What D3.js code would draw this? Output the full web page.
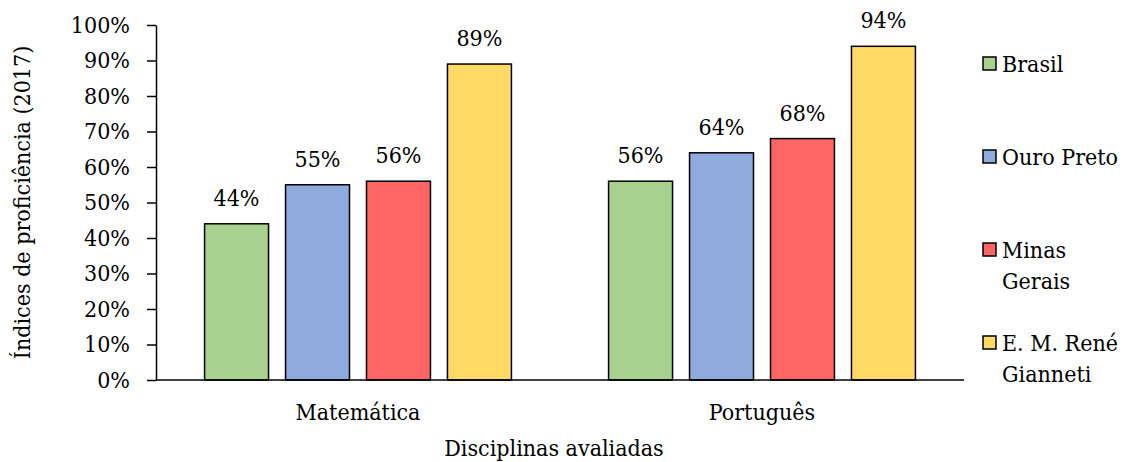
<!DOCTYPE html>
<html>
<head>
<meta charset="utf-8">
<script src="https://cdn.jsdelivr.net/npm/d3@7"></script>
<style>
  html, body { margin: 0; padding: 0; background: #fff; }
</style>
</head>
<body>
<div id="chart"></div>
<script>
const subjects = ['Matemática', 'Português'];
const series = ['Brasil', 'Ouro Preto', 'Minas Gerais', 'E. M. René Gianneti'];
const legendLines = [['Brasil'], ['Ouro Preto'], ['Minas', 'Gerais'], ['E. M. René', 'Gianneti']];
const values = {
  'Matemática': [44, 55, 56, 89],
  'Português': [56, 64, 68, 94]
};
const colors = ['#A9D18E', '#8FAADC', '#FF6565', '#FFD966'];
const yTicks = [0, 10, 20, 30, 40, 50, 60, 70, 80, 90, 100];

const FONT = "'DejaVu Serif Condensed', 'DejaVu Serif', serif";
const FS = '23px';
const width = 1126, height = 462;
const margin = { top: 25, right: 162, bottom: 82, left: 156 };
const innerW = width - margin.left - margin.right;
const innerH = height - margin.top - margin.bottom;

const svg = d3.select('#chart')
  .append('svg')
  .attr('width', width)
  .attr('height', height)
  .style('font-family', FONT)
  .style('font-stretch', 'condensed');

const g = svg.append('g')
  .attr('transform', `translate(${margin.left},${margin.top})`);

const x0 = d3.scaleBand().domain(subjects).range([0, innerW]).padding(0);
const x1 = d3.scaleBand().domain(series).range([0, x0.bandwidth()])
  .paddingInner(0.21).paddingOuter(0.6);
const y = d3.scaleLinear().domain([0, 100]).range([innerH, 0]);

// y axis
const yAxis = g.append('g')
  .call(d3.axisLeft(y).tickValues(yTicks).tickFormat(d => d + '%')
    .tickSizeInner(9).tickSizeOuter(0).tickPadding(17));
yAxis.attr('font-family', null).attr('font-size', null);
yAxis.selectAll('path, line').attr('stroke', '#000').attr('stroke-width', 1.5);
yAxis.selectAll('text').style('font-size', FS).attr('fill', '#000');

// bars
const groups = g.selectAll('.grp')
  .data(subjects)
  .enter()
  .append('g')
  .attr('transform', d => `translate(${x0(d)},0)`);

groups.selectAll('rect')
  .data(d => values[d].map((v, i) => ({ key: series[i], v, i })))
  .enter()
  .append('rect')
  .attr('x', d => x1(d.key))
  .attr('y', d => y(d.v))
  .attr('width', x1.bandwidth())
  .attr('height', d => innerH - y(d.v))
  .attr('fill', d => colors[d.i])
  .attr('stroke', '#000')
  .attr('stroke-width', 1.5);

groups.selectAll('.lbl')
  .data(d => values[d].map((v, i) => ({ key: series[i], v, i })))
  .enter()
  .append('text')
  .attr('x', d => x1(d.key) + x1.bandwidth() / 2)
  .attr('y', d => y(d.v) - 18)
  .attr('text-anchor', 'middle')
  .style('font-size', FS)
  .text(d => d.v + '%');

// x axis line
g.append('line')
  .attr('x1', 0).attr('x2', innerW)
  .attr('y1', innerH).attr('y2', innerH)
  .attr('stroke', '#000').attr('stroke-width', 1.5);

g.selectAll('.cat')
  .data(subjects)
  .enter()
  .append('text')
  .attr('x', d => x0(d) + x0.bandwidth() / 2)
  .attr('y', innerH + 40)
  .attr('text-anchor', 'middle')
  .style('font-size', FS)
  .text(d => d);

// axis titles
svg.append('text')
  .attr('x', 554)
  .attr('y', 456)
  .attr('text-anchor', 'middle')
  .style('font-size', FS)
  .text('Disciplinas avaliadas');

svg.append('text')
  .attr('transform', `translate(30,${margin.top + innerH / 2}) rotate(-90)`)
  .attr('text-anchor', 'middle')
  .style('font-size', FS)
  .text('Índices de proficiência (2017)');

// legend
const legend = svg.append('g').attr('transform', 'translate(983,57)');
const item = legend.selectAll('g')
  .data(series)
  .enter()
  .append('g')
  .attr('transform', (d, i) => `translate(0,${i * 93})`);

item.append('rect')
  .attr('width', 13).attr('height', 13)
  .attr('fill', (d, i) => colors[i])
  .attr('stroke', '#000').attr('stroke-width', 1.5);

item.append('text')
  .attr('x', 19)
  .attr('y', 14.5)
  .style('font-size', FS)
  .selectAll('tspan')
  .data((d, i) => legendLines[i])
  .enter()
  .append('tspan')
  .attr('x', 19)
  .attr('dy', (d, j) => j === 0 ? 0 : 31)
  .text(d => d);
</script>
</body>
</html>
